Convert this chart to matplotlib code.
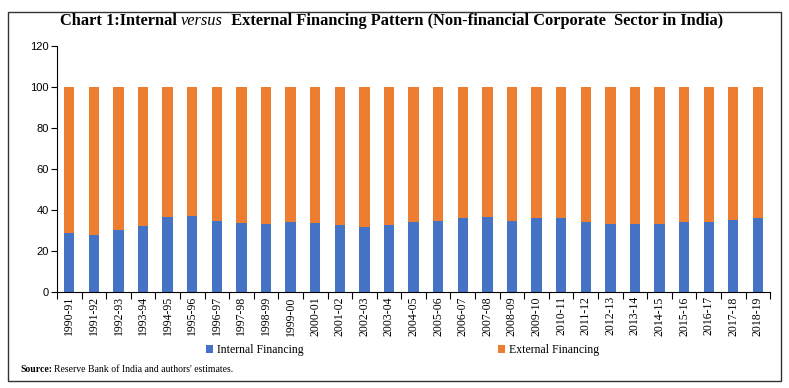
import matplotlib
matplotlib.use("Agg")
import matplotlib.pyplot as plt
from matplotlib.patches import Rectangle

years = ["1990-91", "1991-92", "1992-93", "1993-94", "1994-95", "1995-96", "1996-97",
         "1997-98", "1998-99", "1999-00", "2000-01", "2001-02", "2002-03", "2003-04",
         "2004-05", "2005-06", "2006-07", "2007-08", "2008-09", "2009-10", "2010-11",
         "2011-12", "2012-13", "2013-14", "2014-15", "2015-16", "2016-17", "2017-18",
         "2018-19"]
internal = [28.6, 27.9, 30.2, 32.3, 36.4, 36.9, 34.8, 33.8, 33.0, 34.0, 33.6, 32.8,
            31.5, 32.8, 34.0, 34.8, 35.9, 36.4, 34.9, 35.9, 35.9, 34.4, 33.2, 33.0,
            33.0, 34.0, 34.4, 35.3, 35.9]
external = [100 - v for v in internal]

BLUE = "#4472C4"
ORANGE = "#ED7D31"
SERIF = ["Liberation Serif", "DejaVu Serif"]

fig = plt.figure(figsize=(7.89, 3.88), dpi=100)
ax = fig.add_axes([0.0722, 0.2474, 0.904, 0.6336])

x = list(range(len(years)))
ax.bar(x, internal, width=0.42, color=BLUE, label="Internal Financing")
ax.bar(x, external, width=0.42, bottom=internal, color=ORANGE, label="External Financing")

ax.set_xlim(-0.5, len(years) - 0.5)
ax.set_ylim(0, 120)
ax.set_yticks(range(0, 121, 20))
ax.set_xticks(x)
ax.set_xticklabels(years, rotation=90, fontsize=8.5, family=SERIF)
ax.tick_params(axis="x", length=0, pad=3)
ax.set_xticks([i - 0.5 for i in range(len(years) + 1)], minor=True)
ax.tick_params(axis="x", which="minor", length=5, width=0.8)
ax.tick_params(axis="y", length=4, width=0.8, labelsize=8, pad=2)
for lab in ax.get_yticklabels():
    lab.set_family("Liberation Sans")
for s in ["top", "right"]:
    ax.spines[s].set_visible(False)
for s in ["left", "bottom"]:
    ax.spines[s].set_linewidth(0.8)

# title built from pieces (bold / italic / bold)
fig.canvas.draw()
renderer = fig.canvas.get_renderer()
parts = [("Chart 1:Internal ", "bold", "normal"),
         ("versus", "normal", "italic"),
         ("  External Financing Pattern (Non-financial Corporate  Sector in India)", "bold", "normal")]
xpos = 60
for txt, weight, style in parts:
    t = fig.text(xpos / 789, 1 - 21 / 388, txt, fontsize=11.8, fontweight=weight,
                 fontstyle=style, family=SERIF, va="center", ha="left")
    bb = t.get_window_extent(renderer)
    xpos += bb.width

leg = fig.legend(loc="center", bbox_to_anchor=(0.51, 1 - 350 / 388), ncol=2,
                 frameon=False, handlelength=0.6, handleheight=0.6, handletextpad=0.3,
                 columnspacing=16.5, prop={"family": SERIF, "size": 8.5})

fig.text(20 / 789, 1 - 369 / 388, "Source:", fontsize=7, fontweight="bold",
         family=SERIF, va="center")
fig.text(54 / 789, 1 - 369 / 388, "Reserve Bank of India and authors' estimates.",
         fontsize=7, family=SERIF, va="center")

fig.patches.append(Rectangle((8 / 789, 1 - 381 / 388), 773 / 789, 369 / 388,
                             transform=fig.transFigure, fill=False,
                             edgecolor="#333333", linewidth=1.0))

fig.savefig("out.png", dpi=100)
